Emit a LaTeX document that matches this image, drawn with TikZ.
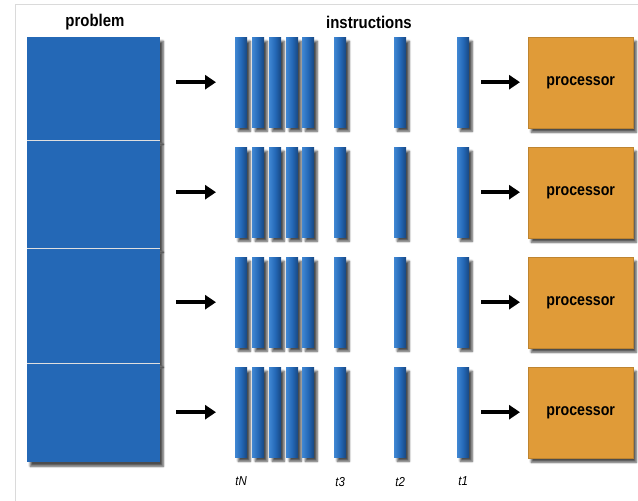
\documentclass[tikz,border=0pt]{standalone}
\usepackage{fontspec}
\setmainfont{Liberation Sans}
\usetikzlibrary{arrows.meta,positioning,shadows.blur}
\definecolor{partblue}{HTML}{2468B6}
\definecolor{bardark}{HTML}{17467F}
\definecolor{barlight}{HTML}{3F86D2}
\definecolor{procorange}{HTML}{E09B38}
\definecolor{framegray}{HTML}{DADADA}
\tikzset{
  softshadow/.style={blur shadow={shadow xshift=3pt, shadow yshift=-4pt, shadow blur steps=6, shadow opacity=70}},
  part/.style={rectangle, fill=partblue, inner sep=0pt, minimum width=133pt, anchor=north west, softshadow},
  bar/.style={rectangle, inner sep=0pt, minimum width=12pt, minimum height=90pt, anchor=north west,
    left color=barlight, right color=bardark, middle color=partblue, softshadow},
  proc/.style={rectangle, fill=procorange, draw=procorange!85!black, inner sep=0pt, minimum width=105pt,
    minimum height=91pt, anchor=north west, softshadow},
  proctext/.style={font=\fontsize{16.5}{18}\selectfont\bfseries, xscale=0.86},
  heading/.style={font=\fontsize{17}{19}\selectfont\bfseries, xscale=0.88},
  tlabel/.style={font=\fontsize{13}{15}\selectfont\itshape, xscale=0.88},
  flow/.style={-{Triangle[length=11pt,width=14pt]}, line width=3.5pt},
}
\begin{document}
\begin{tikzpicture}[x=1pt, y=-1pt]
\useasboundingbox (0,0) rectangle (638,501);
\draw[framegray, line width=1pt] (15,501) -- (15,4) -- (638,4);

% problem, cut in four parts
\node (p1) at (27,37) [part, minimum height=103pt] {};
\node (p2) at (27,140) [part, minimum height=108pt] {};
\node (p3) at (27,248) [part, minimum height=115pt] {};
\node (p4) at (27,363) [part, minimum height=99pt] {};
\foreach \r in {1,2,3} {
  \draw[white!75!gray, line width=1.5pt] (p\r.south west) -- (p\r.south east);
}
\node (problem) at (95,22) [heading] {problem};
\node (instr) at (369,22) [heading] {instructions};

% one row of instructions and one processor per part
\foreach \r in {1,...,4} {
  \foreach \x [count=\i] in {235,252,269,286,302,334,394,457} {
    \node (b\r-\i) at (\x,{37+110*(\r-1)}) [bar] {};
  }
  \node (proc\r) at (528,{37+110*(\r-1)}) [proc] {};
  \node (ptext\r) at (proc\r.center) [proctext] {processor};
  \draw[flow, shorten <=16pt, shorten >=19pt] (b\r-1.west -| p\r.east) -- (b\r-1.west);
  \draw[flow, shorten <=12pt, shorten >=8pt] (b\r-8.east) -- (proc\r.west |- b\r-8.east);
}

\node (tN) [tlabel, below=16pt of b4-1] {tN};
\node (t3) [tlabel, below=16pt of b4-6] {t3};
\node (t2) [tlabel, below=16pt of b4-7] {t2};
\node (t1) [tlabel, below=16pt of b4-8] {t1};
\end{tikzpicture}
\end{document}
